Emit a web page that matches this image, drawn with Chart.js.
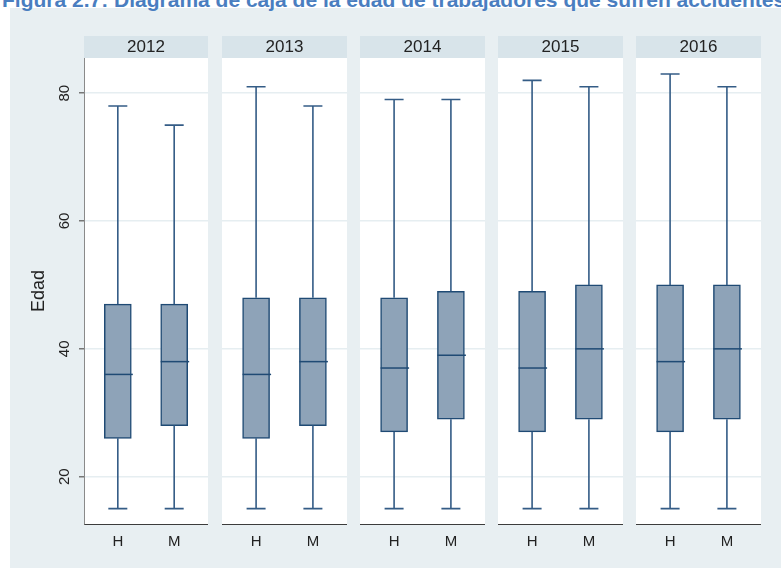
<!DOCTYPE html>
<html lang="es">
<head>
<meta charset="utf-8">
<title>Diagrama de caja - Edad</title>
<script src="https://cdn.jsdelivr.net/npm/chart.js@4"></script>
<style>
  body { margin: 0; background: #fff; width: 781px; height: 568px; overflow: hidden; position: relative; font-family: "Liberation Sans", Arial, sans-serif; }
  .fig-title { position: absolute; left: 2px; top: -11px; font-weight: bold; font-size: 21px; line-height: 21px; color: #4a7ec0; white-space: nowrap; z-index: 2; }
  .graph-region { position: absolute; left: 10px; top: 8px; right: 0; bottom: 0; background: #e8eff2; }
  canvas { position: absolute; top: 36px; }
</style>
</head>
<body>
<div class="fig-title">Figura 2.7: Diagrama de caja de la edad de trabajadores que sufren accidentes</div>
<div class="graph-region"></div>
<canvas id="panel0" width="198" height="532" style="left:10px"></canvas>
<canvas id="panel1" width="125" height="532" style="left:222px"></canvas>
<canvas id="panel2" width="125" height="532" style="left:360px"></canvas>
<canvas id="panel3" width="125" height="532" style="left:498px"></canvas>
<canvas id="panel4" width="125" height="532" style="left:636px"></canvas>
<script>
// data
const years = ["2012", "2013", "2014", "2015", "2016"];
const sexes = ["H", "M"];
const yTicks = [20, 40, 60, 80];

// hombres
const minH = [15, 15, 15, 15, 15];
const q1H = [26, 26, 27, 27, 27];
const medH = [36, 36, 37, 37, 38];
const q3H = [47, 48, 48, 49, 50];
const maxH = [78, 81, 79, 82, 83];

// mujeres
const minM = [15, 15, 15, 15, 15];
const q1M = [28, 28, 29, 29, 29];
const medM = [38, 38, 39, 40, 40];
const q3M = [47, 48, 49, 50, 50];
const maxM = [75, 78, 79, 81, 81];

// styles
const boxFill = "#8ea3b8";
const boxLine = "#1f4a74";
const whiskerLine = "#345c86";
const gridColor = "#e6eef1";
const stripColor = "#d8e4ea";
const textColor = "#222";

Chart.defaults.font.family = "'Liberation Sans', Arial, sans-serif";
Chart.defaults.animation = false;

// white plot area + grey strip for the year
const panelBackground = {
  id: "panelBackground",
  beforeDraw(chart) {
    const { ctx, chartArea: a } = chart;
    ctx.save();
    ctx.fillStyle = stripColor;
    ctx.fillRect(a.left, a.top - 22, a.right - a.left, 22);
    ctx.fillStyle = "#fff";
    ctx.fillRect(a.left, a.top, a.right - a.left, a.bottom - a.top);
    ctx.restore();
  },
};

// whiskers, caps and median line
const whiskers = {
  id: "whiskers",
  afterDatasetsDraw(chart) {
    const { ctx, scales } = chart;
    const stats = chart.data.datasets[0].stats;
    ctx.save();
    stats.forEach((s, i) => {
      const x = scales.x.getPixelForValue(i);
      const y = (v) => scales.y.getPixelForValue(v);
      ctx.strokeStyle = whiskerLine;
      ctx.lineWidth = 1.6;
      ctx.beginPath();
      ctx.moveTo(x, y(s.q3));
      ctx.lineTo(x, y(s.max));
      ctx.moveTo(x - 9.5, y(s.max));
      ctx.lineTo(x + 9.5, y(s.max));
      ctx.moveTo(x, y(s.q1));
      ctx.lineTo(x, y(s.min));
      ctx.moveTo(x - 9.5, y(s.min));
      ctx.lineTo(x + 9.5, y(s.min));
      ctx.stroke();
      // median
      ctx.strokeStyle = boxLine;
      ctx.lineWidth = 1.5;
      ctx.beginPath();
      ctx.moveTo(x - 13.5, y(s.med));
      ctx.lineTo(x + 15, y(s.med));
      ctx.stroke();
    });
    ctx.restore();
  },
};

function makePanel(i) {
  const first = i === 0;
  const stats = [
    { min: minH[i], q1: q1H[i], med: medH[i], q3: q3H[i], max: maxH[i] },
    { min: minM[i], q1: q1M[i], med: medM[i], q3: q3M[i], max: maxM[i] },
  ];
  return new Chart(document.getElementById("panel" + i), {
    type: "bar",
    data: {
      datasets: [
        {
          data: stats.map((s, k) => ({ x: k, y: [s.q1, s.q3] })),
          stats: stats,
          backgroundColor: boxFill,
          borderColor: boxLine,
          borderWidth: 1.5,
          borderSkipped: false,
          barThickness: 27,
        },
      ],
    },
    options: {
      responsive: false,
      layout: { padding: 0 },
      plugins: {
        legend: { display: false },
        tooltip: { enabled: false },
        title: {
          display: true,
          text: years[i],
          fullSize: false,
          color: textColor,
          padding: 0,
          font: { size: 17, weight: "normal", lineHeight: "22px" },
        },
      },
      scales: {
        x: {
          type: "linear",
          min: -0.6,
          max: 1.6,
          offset: false,
          afterBuildTicks: (s) => {
            s.ticks = sexes.map((_, k) => ({ value: k }));
          },
          afterFit: (s) => {
            s.height = 44;
          },
          grid: { display: false, drawTicks: false, offset: false },
          border: { display: true, color: "#3c3c3c", width: 1 },
          ticks: {
            callback: (v) => sexes[v],
            color: textColor,
            padding: 9,
            maxRotation: 0,
            autoSkip: false,
            font: { size: 15 },
          },
        },
        y: {
          min: 12.6,
          max: 85.5,
          afterBuildTicks: (s) => {
            s.ticks = yTicks.map((v) => ({ value: v }));
          },
          afterFit: (s) => {
            s.width = first ? 74 : 0;
          },
          grid: {
            color: gridColor,
            lineWidth: 1.5,
            drawTicks: first,
            tickLength: 5,
            tickColor: "#777",
          },
          border: { display: first, color: "#8a8a8a", width: 1 },
          ticks: {
            display: first,
            minRotation: 90,
            maxRotation: 90,
            crossAlign: "center",
            padding: 6,
            color: textColor,
            font: { size: 15 },
          },
          title: {
            display: first,
            text: "Edad",
            color: textColor,
            padding: { top: 18, bottom: 0 },
            font: { size: 18 },
          },
        },
      },
    },
    plugins: [panelBackground, whiskers],
  });
}

years.forEach((y, i) => makePanel(i));
</script>
</body>
</html>
